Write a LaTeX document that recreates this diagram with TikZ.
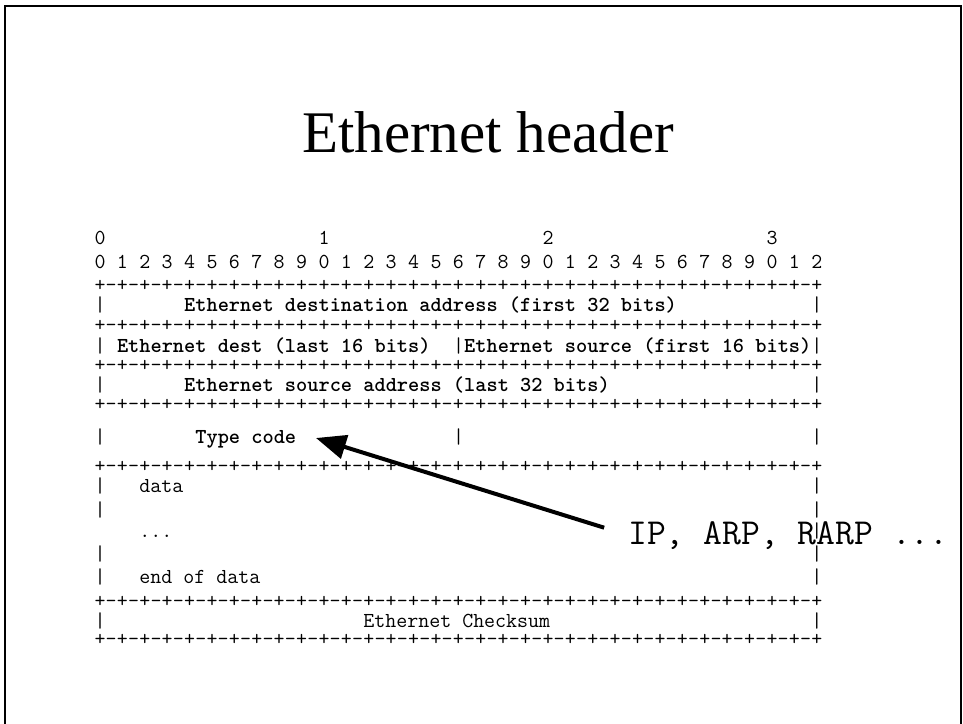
\documentclass[tikz,border=0pt]{standalone}
\usepackage{fontspec}
\setmainfont{Liberation Serif}
\usetikzlibrary{arrows.meta}
\def\cz{94.4}
\def\cw{11.2}
\begin{document}
\begin{tikzpicture}[x=1pt,y=-1pt,
  asc/.style={inner sep=0pt, anchor=base west, font=\fontsize{21.33}{24}\ttfamily},
  ascb/.style={inner sep=0pt, anchor=base west, font=\fontsize{21.33}{24}\ttfamily\bfseries},
  glyph/.style={inner sep=0pt, anchor=base, font=\fontsize{21.33}{24}\ttfamily},
  frame/.style={line width=2pt},
  pointer/.style={line width=4pt, -{Triangle[length=30pt,width=24pt]}}]
\useasboundingbox (0,0) rectangle (963,723);
\draw[frame] (4.5,740) -- (4.5,5.5) -- (961,5.5) -- (961,740);
\node[font=\fontsize{59}{70}\selectfont, anchor=base, inner sep=0pt] (title) at (488,152) {Ethernet header};
% bit numbers
\node[glyph] (t0) at ({\cz+0.5*\cw},244) {0};
\node[glyph] (t1) at ({\cz+20.5*\cw},244) {1};
\node[glyph] (t2) at ({\cz+40.5*\cw},244) {2};
\node[glyph] (t3) at ({\cz+60.5*\cw},244) {3};
\foreach \i in {0,...,32}{
  \pgfmathtruncatemacro\dg{mod(\i,10)}
  \node[glyph] (bit-\i) at ({\cz+(2*\i+0.5)*\cw},268) {\dg};
}
% separator lines
\foreach \r/\y in {l1/291,l2/331,l3/371,l4/410,l5/472,l6/607,l7/645}{
  \foreach \i in {0,2,...,64}{
    \node[glyph] (\r-p\i) at ({\cz+(\i+0.5)*\cw},\y) {+};
  }
  \foreach \i in {1,3,...,63}{
    \node[glyph] (\r-m\i) at ({\cz+(\i+0.5)*\cw},\y) {-};
  }
}
% row 1
\node[asc] (r1a) at ({\cz+0*\cw},311) {|};
\node[ascb] (dst1) at ({\cz+8*\cw},311) {Ethernet destination address (first 32 bits)};
\node[asc] (r1b) at ({\cz+64*\cw},311) {|};
% row 2
\node[asc] (r2a) at ({\cz+0*\cw},352) {|};
\node[ascb] (dst2) at ({\cz+2*\cw},352) {Ethernet dest (last 16 bits)};
\node[asc] (r2b) at ({\cz+32*\cw},352) {|};
\node[ascb] (src1) at ({\cz+33*\cw},352) {Ethernet source (first 16 bits)};
\node[asc] (r2c) at ({\cz+64*\cw},352) {|};
% row 3
\node[asc] (r3a) at ({\cz+0*\cw},391) {|};
\node[ascb] (src2) at ({\cz+8*\cw},391) {Ethernet source address (last 32 bits)};
\node[asc] (r3b) at ({\cz+64*\cw},391) {|};
% row 4
\node[asc] (r4a) at ({\cz+0*\cw},443) {|};
\node[ascb] (tc) at ({\cz+9*\cw},443) {Type code};
\node[asc] (r4b) at ({\cz+32*\cw},443) {|};
\node[asc] (r4c) at ({\cz+64*\cw},443) {|};
% data
\node[asc] (d1a) at ({\cz+0*\cw},492) {|};
\node[asc] (data) at ({\cz+4*\cw},492) {data};
\node[asc] (d1b) at ({\cz+64*\cw},492) {|};
\node[asc] (d2a) at ({\cz+0*\cw},516) {|};
\node[asc] (d2b) at ({\cz+64*\cw},516) {|};
\node[asc] (dots) at ({\cz+4*\cw},537) {...};
\node[asc] (d3b) at ({\cz+64*\cw},537) {|};
\node[asc] (d4a) at ({\cz+0*\cw},560) {|};
\node[asc] (d4b) at ({\cz+64*\cw},560) {|};
\node[asc] (d5a) at ({\cz+0*\cw},583) {|};
\node[asc] (eod) at ({\cz+4*\cw},583) {end of data};
\node[asc] (d5b) at ({\cz+64*\cw},583) {|};
% checksum
\node[asc] (c1a) at ({\cz+0*\cw},627) {|};
\node[asc] (cks) at ({\cz+24*\cw},627) {Ethernet Checksum};
\node[asc] (c1b) at ({\cz+64*\cw},627) {|};
% annotation
\node[inner sep=0pt, anchor=base west, font=\fontsize{36.6}{40}\ttfamily] (ip) at (628,544) {IP, ARP, RARP ...};
\coordinate (tip) at (316,438);
\draw[pointer, shorten <=25pt] (ip.west) -- (tip);
\end{tikzpicture}
\end{document}
